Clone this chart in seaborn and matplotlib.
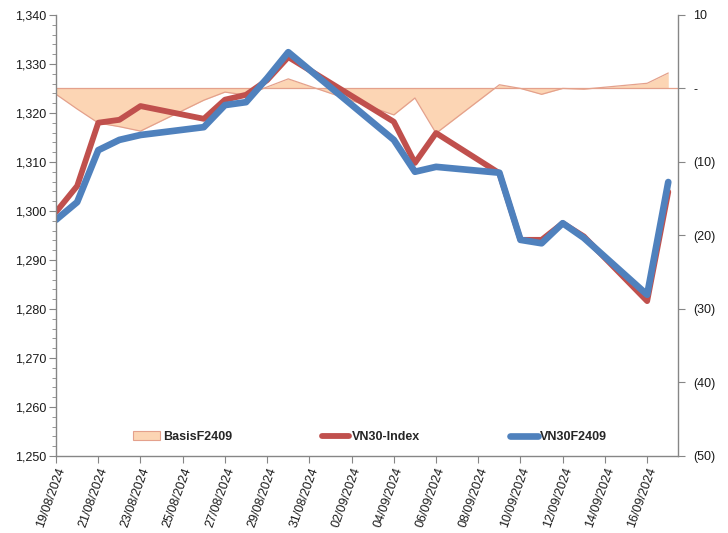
#import libraries
import pandas as pd
import numpy as np
import matplotlib
matplotlib.use("Agg")
import matplotlib.pyplot as plt
import matplotlib.dates as mdates
from matplotlib.ticker import FuncFormatter, MultipleLocator
from matplotlib.patches import Patch
from matplotlib.lines import Line2D
import seaborn as sns

#chart data (trading days)
dates = ["19/08/2024", "20/08/2024", "21/08/2024", "22/08/2024", "23/08/2024",
         "26/08/2024", "27/08/2024", "28/08/2024", "29/08/2024", "30/08/2024",
         "04/09/2024", "05/09/2024", "06/09/2024", "09/09/2024", "10/09/2024",
         "11/09/2024", "12/09/2024", "13/09/2024", "16/09/2024", "17/09/2024"]
vn30_index = [1299.8, 1305.1, 1318.0, 1318.6, 1321.4,
              1318.8, 1322.7, 1323.7, 1326.7, 1331.4,
              1318.2, 1309.8, 1315.9, 1307.7, 1294.1,
              1294.1, 1297.5, 1294.8, 1281.6, 1303.9]
vn30f2409 = [1298.2, 1301.8, 1312.4, 1314.5, 1315.5,
             1317.1, 1321.6, 1322.2, 1327.1, 1332.4,
             1314.5, 1308.0, 1309.0, 1307.8, 1294.1,
             1293.4, 1297.5, 1294.5, 1282.9, 1305.9]
basis = [-0.8, -2.8, -4.7, -5.2, -5.8,
         -1.6, -0.5, -0.9, 0.2, 1.3,
         -3.6, -1.3, -6.1, 0.5, 0.0,
         -0.8, 0.0, -0.1, 0.7, 2.1]

df = pd.DataFrame({
    'date': pd.to_datetime(dates, format="%d/%m/%Y"),
    'VN30-Index': vn30_index,
    'VN30F2409': vn30f2409,
    'BasisF2409': basis,
})

RED = '#C0504D'
BLUE = '#4F81BD'
PEACH = '#FCD5B4'
PEACH_EDGE = '#E4A18C'
AXIS = '#868686'
TXT = '#1a1a1a'

sns.set_style("white")
plt.rcParams['font.family'] = ['Liberation Sans', 'DejaVu Sans']

fig = plt.figure(figsize=(7.28, 5.33), dpi=100)
ax = fig.add_axes([0.077, 0.1445, 0.854, 0.8275])
ax2 = ax.twinx()

#basis area on right axis
sns.lineplot(data=df, x='date', y='BasisF2409', ax=ax2, color=PEACH_EDGE, linewidth=0.9)
ax2.fill_between(df['date'], 0, df['BasisF2409'], color=PEACH, linewidth=0)
ax2.axhline(0, color=PEACH_EDGE, linewidth=0.9)

#index and futures lines on left axis
sns.lineplot(data=df, x='date', y='VN30-Index', ax=ax, color=RED, linewidth=4.2)
sns.lineplot(data=df, x='date', y='VN30F2409', ax=ax, color=BLUE, linewidth=4.8)

ax.set_zorder(ax2.get_zorder() + 1)
ax.patch.set_visible(False)

#axes limits
start = df['date'].iloc[0]
ax.set_xlim(start, start + pd.Timedelta(days=29.45))
ax.set_ylim(1250, 1340)
ax2.set_ylim(-50, 10)

ax.yaxis.set_major_locator(MultipleLocator(10))
ax.yaxis.set_minor_locator(MultipleLocator(2))
ax.yaxis.set_major_formatter(FuncFormatter(lambda v, p: f"{v:,.0f}"))
ax2.yaxis.set_major_locator(MultipleLocator(10))

def basis_fmt(v, p):
    if abs(v) < 1e-9:
        return "-"
    if v < 0:
        return f"({abs(v):.0f})"
    return f"{v:.0f}"

ax2.yaxis.set_major_formatter(FuncFormatter(basis_fmt))

ax.xaxis.set_major_locator(mdates.DayLocator(interval=2))
ax.xaxis.set_major_formatter(mdates.DateFormatter("%d/%m/%Y"))

ax.set_xlabel("")
ax.set_ylabel("")
ax2.set_ylabel("")

for a in (ax, ax2):
    for s in a.spines.values():
        s.set_color(AXIS)
        s.set_linewidth(1)
    a.spines['top'].set_visible(False)

ax.spines['right'].set_visible(False)
ax2.spines['left'].set_visible(False)
ax2.spines['bottom'].set_visible(False)

ax.tick_params(axis='y', which='major', direction='out', length=5, color=AXIS,
               labelsize=9, labelcolor=TXT, left=True, pad=2)
ax.tick_params(axis='y', which='minor', direction='out', length=3, color=AXIS, left=True)
ax.tick_params(axis='x', direction='out', length=5, color=AXIS, bottom=True,
               labelsize=9, labelcolor=TXT, pad=2)
ax2.tick_params(axis='y', direction='out', length=5, color=AXIS, right=True,
                labelsize=9, labelcolor=TXT, pad=6)

for lbl in ax.get_xticklabels():
    lbl.set_rotation(70)
    lbl.set_ha('right')
    lbl.set_rotation_mode('anchor')

#legend
handles = [Patch(facecolor=PEACH, edgecolor=PEACH_EDGE, linewidth=0.8),
           Line2D([0], [0], color=RED, linewidth=4.2),
           Line2D([0], [0], color=BLUE, linewidth=4.8)]
labels = ['BasisF2409', 'VN30-Index', 'VN30F2409']
ax.legend(handles, labels, loc='center', bbox_to_anchor=(0.505, 0.043), ncol=3,
          frameon=False, handlelength=2.2, handletextpad=0.2, columnspacing=7.2,
          prop={'size': 9, 'weight': 'bold'})

fig.savefig("out.png", dpi=100)
